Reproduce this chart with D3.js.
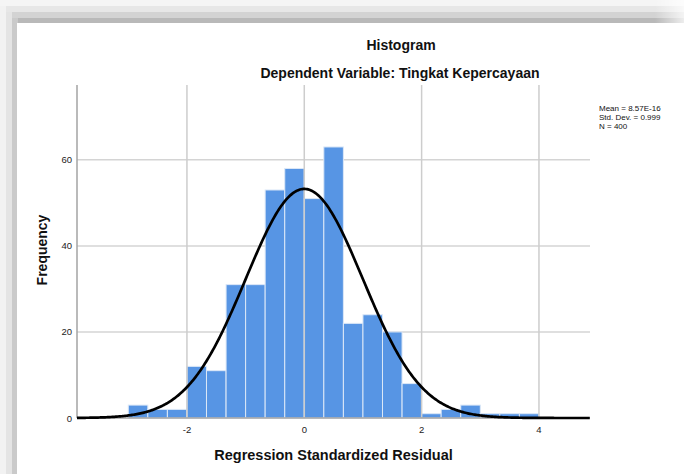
<!DOCTYPE html>
<html>
<head>
<meta charset="utf-8">
<script src="https://cdn.jsdelivr.net/npm/d3@7"></script>
<style>
  html, body { margin: 0; padding: 0; background: #fff; }
  svg { display: block; font-family: "Liberation Sans", Arial, sans-serif; }
</style>
</head>
<body>
<svg id="chart" width="684" height="474"></svg>
<script>
// histogram bins (lower edge) and counts
var binStart = [-3, -2.667, -2.333, -2, -1.667, -1.333, -1, -0.667, -0.333, 0, 0.333,
                0.667, 1, 1.333, 1.667, 2, 2.333, 2.667, 3, 3.333, 3.667];
var counts = [3, 2, 2, 12, 11, 31, 31, 53, 58, 51, 63, 22, 24, 20, 8, 1, 2, 3, 1, 1, 1];
var binWidth = 1 / 3;

var xTicks = [-2, 0, 2, 4];
var yTicks = [0, 20, 40, 60];

var statLabels = ['Mean = 8.57E-16', 'Std. Dev. = 0.999', 'N = 400'];
var mean = 8.57e-16, sd = 0.999, n = 400;

var svg = d3.select('#chart');

// window frame / shadow around the output panel
var defs = svg.append('defs');
var fade = defs.append('linearGradient').attr('id', 'fadeR').attr('x1', 0).attr('x2', 1);
fade.append('stop').attr('offset', 0).attr('stop-color', '#fff').attr('stop-opacity', 0);
fade.append('stop').attr('offset', 1).attr('stop-color', '#fff').attr('stop-opacity', 0.75);

var bandsTop = ['#f5f5f5', '#e7e7e7', '#d3d3d3', '#b9b9b9'];
var bandsLeft = ['#f2f2f2', '#e4e4e4', '#cacaca'];
svg.append('rect').attr('width', 684).attr('height', 474).attr('fill', '#f7f7f7');
bandsTop.forEach(function (c, i) {
    svg.append('rect').attr('x', i * 5).attr('y', i * 6)
        .attr('width', 684 - i * 5).attr('height', 6).attr('fill', c);
});
bandsLeft.forEach(function (c, i) {
    svg.append('rect').attr('x', i * 6).attr('y', 6 + i * 6)
        .attr('width', 6).attr('height', 474).attr('fill', c);
});
svg.append('rect').attr('x', 655).attr('y', 0).attr('width', 29).attr('height', 23).attr('fill', 'url(#fadeR)');
svg.append('rect').attr('x', 17).attr('y', 23).attr('width', 667).attr('height', 451).attr('fill', '#fff');

var pLeft = 77, pRight = 590, pTop = 85, pBottom = 418;

var x = d3.scaleLinear().domain([-3.874, 4.87]).range([pLeft, pRight]);
var y = d3.scaleLinear().domain([0, 77.4]).range([pBottom, pTop]);

// horizontal grid
svg.append('g').selectAll('line').data(yTicks.slice(1)).enter().append('line')
    .attr('x1', pLeft).attr('x2', pRight)
    .attr('y1', d => y(d)).attr('y2', d => y(d))
    .attr('stroke', '#d4d4d4').attr('stroke-width', 1.5);

// bars
svg.append('g').selectAll('rect').data(counts).enter().append('rect')
    .attr('x', (d, i) => x(binStart[i]))
    .attr('width', (d, i) => x(binStart[i] + binWidth) - x(binStart[i]))
    .attr('y', d => y(d))
    .attr('height', d => y(0) - y(d))
    .attr('fill', '#5795e4')
    .attr('stroke', '#dce8f7').attr('stroke-width', 1);

// vertical grid
svg.append('g').selectAll('line').data(xTicks).enter().append('line')
    .attr('x1', d => x(d)).attr('x2', d => x(d))
    .attr('y1', pTop).attr('y2', pBottom)
    .attr('stroke', '#cdcdcd').attr('stroke-width', 1.5);

// axes lines
svg.append('line').attr('x1', pLeft).attr('x2', pLeft).attr('y1', pTop).attr('y2', pBottom)
    .attr('stroke', '#a3a3a3').attr('stroke-width', 1.5);
svg.append('line').attr('x1', pLeft).attr('x2', pRight).attr('y1', pBottom).attr('y2', pBottom)
    .attr('stroke', '#a3a3a3').attr('stroke-width', 1.5);

// normal curve
var pts = d3.range(x.domain()[0], x.domain()[1] + 0.001, 0.02).map(function (v) {
    var z = (v - mean) / sd;
    return [v, n * binWidth * Math.exp(-0.5 * z * z) / (sd * Math.sqrt(2 * Math.PI))];
});
svg.append('path').datum(pts)
    .attr('d', d3.line().x(d => x(d[0])).y(d => y(d[1])))
    .attr('fill', 'none').attr('stroke', '#000').attr('stroke-width', 2.7);

// tick labels
svg.append('g').selectAll('text').data(yTicks).enter().append('text')
    .attr('x', 72).attr('y', d => y(d) + 3.5)
    .attr('text-anchor', 'end').attr('font-size', 9.5).attr('fill', '#222')
    .text(d => d);
svg.append('g').selectAll('text').data(xTicks).enter().append('text')
    .attr('x', d => x(d)).attr('y', 433)
    .attr('text-anchor', 'middle').attr('font-size', 9.5).attr('fill', '#222')
    .text(d => d);

// titles
svg.append('text').attr('x', 401).attr('y', 50).attr('text-anchor', 'middle')
    .attr('font-size', 14).attr('font-weight', 'bold').attr('fill', '#111').text('Histogram');
svg.append('text').attr('x', 400).attr('y', 78).attr('text-anchor', 'middle')
    .attr('font-size', 14).attr('font-weight', 'bold').attr('fill', '#111')
    .text('Dependent Variable: Tingkat Kepercayaan');
svg.append('text').attr('x', (pLeft + pRight) / 2).attr('y', 460).attr('text-anchor', 'middle')
    .attr('font-size', 14.5).attr('font-weight', 'bold').attr('fill', '#111')
    .text('Regression Standardized Residual');
svg.append('text').attr('transform', 'translate(47,' + 250 + ') rotate(-90)')
    .attr('text-anchor', 'middle')
    .attr('font-size', 14).attr('font-weight', 'bold').attr('fill', '#111')
    .text('Frequency');

// stats box
svg.append('g').selectAll('text').data(statLabels).enter().append('text')
    .attr('x', 599).attr('y', (d, i) => 111 + i * 9)
    .attr('font-size', 8).attr('fill', '#111')
    .text(d => d);
</script>
</body>
</html>
